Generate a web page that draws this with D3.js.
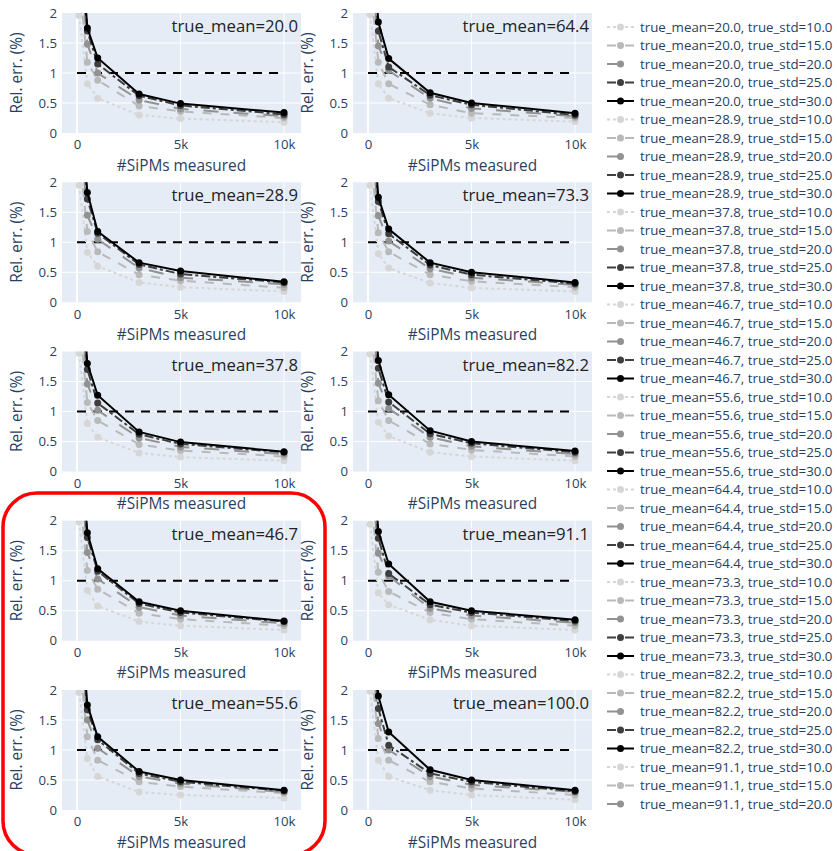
<!DOCTYPE html>
<html>
<head>
<meta charset="utf-8">
<script src="https://cdn.jsdelivr.net/npm/d3@7"></script>
<style>
  body { margin: 0; background: #fff; }
  text { font-family: "Open Sans", verdana, arial, sans-serif; fill: #2a3f5f; }
</style>
</head>
<body>
<div id="wrapper"></div>
<script>
// number of SiPMs measured (x values)
const nSipms = [100, 500, 1000, 3000, 5000, 10000];
const trueMeans = ["20.0", "28.9", "37.8", "46.7", "55.6", "64.4", "73.3", "82.2", "91.1", "100.0"];
const trueStds = ["10.0", "15.0", "20.0", "25.0", "30.0"];

// rel. err (%) per panel, one row per true_std (10, 15, 20, 25, 30)
const errMean20 = [
  [1.96, 0.82, 0.58, 0.30, 0.24, 0.18],
  [2.55, 1.18, 0.88, 0.45, 0.36, 0.25],
  [3.05, 1.48, 1.00, 0.55, 0.40, 0.28],
  [3.40, 1.70, 1.15, 0.62, 0.46, 0.31],
  [3.60, 1.75, 1.25, 0.65, 0.49, 0.34]];
const errMean28_9 = [
  [1.95, 0.83, 0.60, 0.33, 0.25, 0.18],
  [2.50, 1.18, 0.84, 0.46, 0.36, 0.24],
  [3.00, 1.45, 1.05, 0.57, 0.41, 0.30],
  [3.40, 1.72, 1.15, 0.63, 0.47, 0.33],
  [3.65, 1.83, 1.18, 0.66, 0.52, 0.34]];
const errMean37_8 = [
  [1.97, 0.80, 0.57, 0.31, 0.24, 0.18],
  [2.55, 1.15, 0.85, 0.45, 0.35, 0.25],
  [3.05, 1.46, 1.02, 0.56, 0.41, 0.29],
  [3.45, 1.70, 1.14, 0.62, 0.46, 0.32],
  [3.70, 1.80, 1.27, 0.66, 0.49, 0.33]];
const errMean46_7 = [
  [1.98, 0.84, 0.58, 0.32, 0.25, 0.18],
  [2.50, 1.17, 0.86, 0.46, 0.36, 0.25],
  [3.10, 1.47, 1.03, 0.56, 0.42, 0.29],
  [3.45, 1.72, 1.16, 0.62, 0.47, 0.32],
  [3.70, 1.80, 1.20, 0.65, 0.50, 0.33]];
const errMean55_6 = [
  [1.96, 0.86, 0.56, 0.30, 0.25, 0.20],
  [2.55, 1.22, 0.83, 0.47, 0.39, 0.28],
  [3.05, 1.50, 1.03, 0.56, 0.44, 0.30],
  [3.35, 1.67, 1.17, 0.61, 0.47, 0.32],
  [3.55, 1.75, 1.22, 0.64, 0.50, 0.33]];
const errMean64_4 = [
  [1.97, 0.82, 0.58, 0.33, 0.25, 0.19],
  [2.55, 1.18, 0.82, 0.47, 0.33, 0.25],
  [3.05, 1.45, 1.04, 0.58, 0.41, 0.28],
  [3.45, 1.70, 1.10, 0.63, 0.47, 0.30],
  [3.75, 1.85, 1.24, 0.67, 0.50, 0.33]];
const errMean73_3 = [
  [1.95, 0.81, 0.57, 0.32, 0.24, 0.18],
  [2.50, 1.16, 0.84, 0.46, 0.35, 0.25],
  [3.00, 1.44, 1.02, 0.56, 0.41, 0.29],
  [3.35, 1.68, 1.14, 0.62, 0.46, 0.31],
  [3.55, 1.75, 1.22, 0.66, 0.50, 0.33]];
const errMean82_2 = [
  [1.96, 0.82, 0.59, 0.32, 0.25, 0.18],
  [2.55, 1.18, 0.85, 0.46, 0.36, 0.25],
  [3.05, 1.47, 1.05, 0.57, 0.42, 0.29],
  [3.45, 1.72, 1.16, 0.63, 0.47, 0.32],
  [3.75, 1.85, 1.28, 0.68, 0.50, 0.34]];
const errMean91_1 = [
  [1.94, 0.80, 0.60, 0.35, 0.25, 0.18],
  [2.50, 1.14, 0.82, 0.47, 0.36, 0.25],
  [3.05, 1.46, 1.08, 0.54, 0.42, 0.30],
  [3.45, 1.71, 1.12, 0.60, 0.47, 0.33],
  [3.70, 1.82, 1.28, 0.65, 0.50, 0.35]];
const errMean100 = [
  [1.98, 0.83, 0.56, 0.33, 0.25, 0.17],
  [2.55, 1.19, 0.83, 0.47, 0.36, 0.25],
  [3.05, 1.44, 1.00, 0.56, 0.42, 0.30],
  [3.50, 1.69, 1.08, 0.61, 0.47, 0.31],
  [3.85, 1.90, 1.30, 0.67, 0.50, 0.33]];

const panelErrs = [errMean20, errMean28_9, errMean37_8, errMean46_7, errMean55_6,
  errMean64_4, errMean73_3, errMean82_2, errMean91_1, errMean100];

const yTicks = [0, 0.5, 1, 1.5, 2];
const xTicks = [0, 5000, 10000];

// styling per true_std
const stdColors = ["#d6d6d6", "#b9b9b9", "#929292", "#3e3e3e", "#000000"];
const stdDash = ["3,3", "9,9", "15,15", "9,3,3,3", null];

const W = 837, H = 851;
const panelW = 239, panelH = 120;
const colLeft = [62, 353];
const rowStep = 169.25, topY = 13;

const svg = d3.select("#wrapper")
  .append("svg")
  .attr("width", W)
  .attr("height", H);

const xScale = d3.scaleLinear()
  .domain([-725, 10820])
  .range([0, panelW]);

const yScale = d3.scaleLinear()
  .domain([0, 2])
  .range([panelH, 0]);

const line = d3.line()
  .x(d => xScale(d[0]))
  .y(d => yScale(d[1]));

const fmtK = d => d === 0 ? "0" : (d / 1000) + "k";

panelErrs.forEach(function(errs, i) {
  const col = Math.floor(i / 5), row = i % 5;
  const g = svg.append("g")
    .attr("transform", "translate(" + colLeft[col] + "," + (topY + row * rowStep) + ")");

  g.append("rect")
    .attr("width", panelW)
    .attr("height", panelH)
    .attr("fill", "#e5ecf6");

  // grid
  g.selectAll(".ygrid")
    .data(yTicks.filter(t => t > 0 && t < 2))
    .enter().append("line")
    .attr("x1", 0).attr("x2", panelW)
    .attr("y1", d => yScale(d)).attr("y2", d => yScale(d))
    .attr("stroke", "#fff").attr("stroke-width", 1);
  g.selectAll(".xgrid")
    .data(xTicks)
    .enter().append("line")
    .attr("x1", d => xScale(d)).attr("x2", d => xScale(d))
    .attr("y1", 0).attr("y2", panelH)
    .attr("stroke", "#fff").attr("stroke-width", d => d === 0 ? 2 : 1);

  // axes
  const yAxis = d3.axisLeft(yScale).tickValues(yTicks).tickFormat(d => String(d)).tickSize(0).tickPadding(5);
  const xAxis = d3.axisBottom(xScale).tickValues(xTicks).tickFormat(fmtK).tickSize(0).tickPadding(7);
  const ya = g.append("g").call(yAxis);
  const xa = g.append("g").attr("transform", "translate(0," + panelH + ")").call(xAxis);
  [ya, xa].forEach(a => {
    a.select(".domain").remove();
    a.selectAll("text").style("font-size", "13.2px").attr("fill", "#2a3f5f");
  });

  g.append("text")
    .attr("transform", "translate(-45," + (panelH / 2) + ") rotate(-90)")
    .attr("text-anchor", "middle")
    .attr("dy", "0.35em")
    .style("font-size", "15.4px")
    .text("Rel. err. (%)");

  g.append("text")
    .attr("x", panelW / 2)
    .attr("y", panelH + 37.5)
    .attr("text-anchor", "middle")
    .style("font-size", "15.4px")
    .text("#SiPMs measured");

  const clipId = "clip" + i;
  g.append("clipPath").attr("id", clipId)
    .append("rect").attr("width", panelW).attr("height", panelH);

  const plot = g.append("g").attr("clip-path", "url(#" + clipId + ")");

  // threshold line at 1%
  plot.append("path")
    .attr("d", line([[0, 1], [10000, 1]]))
    .attr("stroke", "#000")
    .attr("stroke-width", 2)
    .attr("stroke-dasharray", "9,7")
    .attr("fill", "none");

  errs.forEach(function(vals, s) {
    const pts = nSipms.map((n, k) => [n, vals[k]]);
    plot.append("path")
      .attr("d", line(pts))
      .attr("fill", "none")
      .attr("stroke", stdColors[s])
      .attr("stroke-width", 2)
      .attr("stroke-dasharray", stdDash[s]);
    plot.selectAll(".pt" + s)
      .data(pts)
      .enter().append("circle")
      .attr("cx", d => xScale(d[0]))
      .attr("cy", d => yScale(d[1]))
      .attr("r", 3.5)
      .attr("fill", stdColors[s]);
  });

  g.append("text")
    .attr("x", panelW - 3)
    .attr("y", 19)
    .attr("text-anchor", "end")
    .style("font-size", "16.7px")
    .style("fill", "#222")
    .text("true_mean=" + trueMeans[i]);
});

// legend (only the items that fit are visible)
const legendItems = [];
trueMeans.forEach((m, mi) => trueStds.forEach((s, si) => legendItems.push({m: m, s: s, si: si})));
const shown = legendItems.slice(0, 43);

const leg = svg.append("g").attr("transform", "translate(607,27)");
const item = leg.selectAll(".leg")
  .data(shown)
  .enter().append("g")
  .attr("transform", (d, k) => "translate(0," + (k * 18.5) + ")");
item.append("line")
  .attr("x1", 0).attr("x2", 27).attr("y1", 0).attr("y2", 0)
  .attr("stroke", d => stdColors[d.si])
  .attr("stroke-width", 2)
  .attr("stroke-dasharray", d => stdDash[d.si]);
item.append("circle")
  .attr("cx", 13.5).attr("cy", 0).attr("r", 3.5)
  .attr("fill", d => stdColors[d.si]);
item.append("text")
  .attr("x", 33)
  .attr("dy", "0.35em")
  .style("font-size", "13.3px")
  .text(d => "true_mean=" + d.m + ", true_std=" + d.s);

// red highlight around the lower left panels
svg.append("rect")
  .attr("x", 3).attr("y", 493)
  .attr("width", 322).attr("height", 362)
  .attr("rx", 34)
  .attr("fill", "none")
  .attr("stroke", "#f00")
  .attr("stroke-width", 3.5);
</script>
</body>
</html>
